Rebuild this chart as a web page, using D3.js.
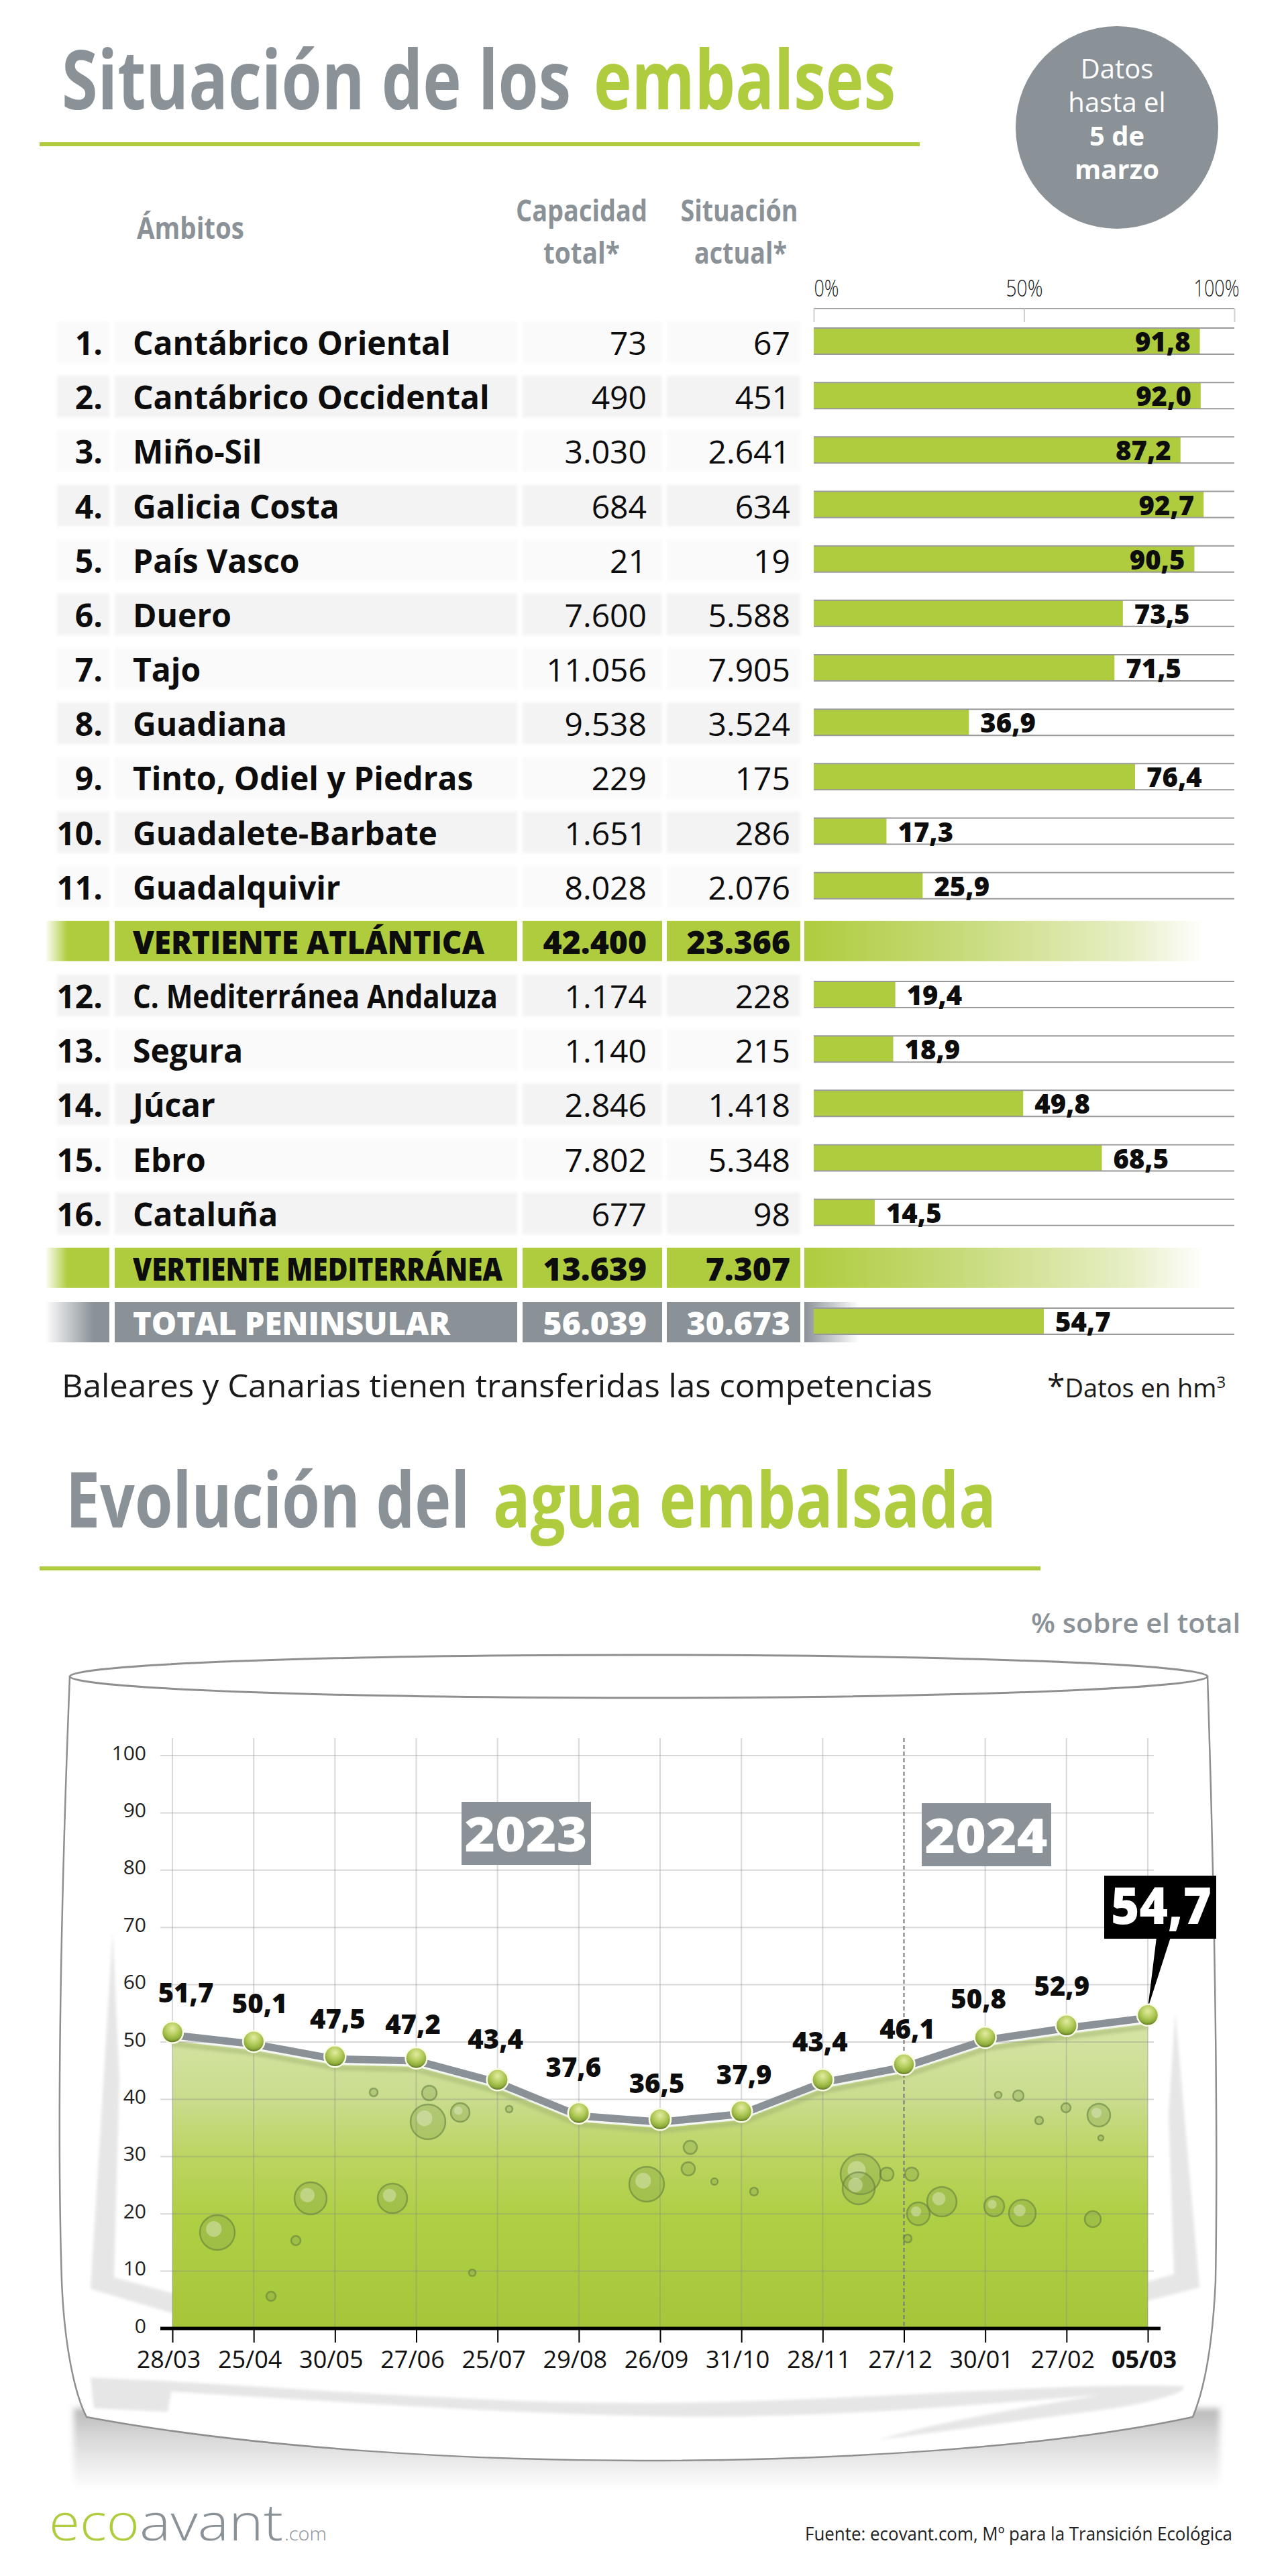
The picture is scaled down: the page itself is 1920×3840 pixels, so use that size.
<!DOCTYPE html>
<html>
<head>
<meta charset="utf-8">
<script src="https://cdn.jsdelivr.net/npm/d3@7"></script>
<style>
  html, body { margin: 0; padding: 0; background: #fff; }
  svg { display: block; }
  text { font-family: "Open Sans", sans-serif; }
</style>
</head>
<body>
<div id="chart"></div>
<script>
// table data
const numeros = ['1.','2.','3.','4.','5.','6.','7.','8.','9.','10.','11.','','12.','13.','14.','15.','16.','',''];
const ambitos = ['Cantábrico Oriental','Cantábrico Occidental','Miño-Sil','Galicia Costa','País Vasco','Duero','Tajo','Guadiana','Tinto, Odiel y Piedras','Guadalete-Barbate','Guadalquivir','VERTIENTE ATLÁNTICA','C. Mediterránea Andaluza','Segura','Júcar','Ebro','Cataluña','VERTIENTE MEDITERRÁNEA','TOTAL PENINSULAR'];
const capacidad = [73,490,3030,684,21,7600,11056,9538,229,1651,8028,42400,1174,1140,2846,7802,677,13639,56039];
const actual = [67,451,2641,634,19,5588,7905,3524,175,286,2076,23366,228,215,1418,5348,98,7307,30673];
const porcentaje = [91.8,92.0,87.2,92.7,90.5,73.5,71.5,36.9,76.4,17.3,25.9,null,19.4,18.9,49.8,68.5,14.5,null,54.7];
const tipoFila = ['r','r','r','r','r','r','r','r','r','r','r','v','r','r','r','r','r','v','t'];

// line chart data
const fechas = ['28/03','25/04','30/05','27/06','25/07','29/08','26/09','31/10','28/11','27/12','30/01','27/02','05/03'];
const agua = [51.7,50.1,47.5,47.2,43.4,37.6,36.5,37.9,43.4,46.1,50.8,52.9,54.7];

// hand placement of the value labels around each point
const labelDx = [20,9,4,-5,-3,-8,-5,4,-4,5,-10,-7];
const labelDy = [-44,-42,-41,-36,-46,-54,-39,-40,-42,-38,-43,-44];

// water bubbles, only decoration: x, y, r
const burbujas = [[324,3328,26],[463,3277,24],[585,3277,22],[638,3163,26],[686,3149,14],[640,3120,11],[557,3119,6],[441,3340,7],[964,3256,26],[1026,3233,10],[1029,3201,10],[1065,3252,5],[1124,3267,6],[1283,3241,30],[1280,3262,24],[1322,3241,10],[1359,3241,10],[1404,3282,22],[1369,3300,17],[1353,3337,6],[1482,3289,15],[1524,3299,20],[1629,3308,12],[1638,3153,17],[1589,3142,7],[1518,3124,8],[1488,3123,5],[1549,3161,6],[759,3144,5],[1641,3187,4],[704,3388,5],[404,3423,7]];

const green = '#afcc3e';
const gray = '#8a9298';
const ink = '#0d0d0d';

const es = d3.formatLocale({ decimal: ',', thousands: '.', grouping: [3], currency: ['', '€'] });
const fmtInt = es.format(',d');
const fmtPct = es.format('.1f');

const svg = d3.select('#chart').append('svg')
    .attr('width', 1920)
    .attr('height', 3840)
    .attr('viewBox', [0, 0, 1920, 3840]);

const defs = svg.append('defs');

const linear = (id, stops, attrs) => {
    const g = defs.append('linearGradient').attr('id', id);
    Object.entries(attrs || {}).forEach(([k, v]) => g.attr(k, v));
    stops.forEach(([o, c]) => g.append('stop').attr('offset', o).attr('stop-color', c));
};
linear('fadeRight', [[0, green], [0.35, '#c6da78'], [0.75, '#e6eec4'], [0.93, '#ffffff']]);
linear('fadeLeftGreen', [[0, '#ffffff'], [0.35, green], [1, green]]);
linear('fadeLeftGray', [[0, '#ffffff'], [0.75, gray], [1, gray]]);
linear('fadeRightGray', [[0, gray], [1, '#ffffff']]);
linear('fadeLeftRow', [[0, '#ffffff'], [0.45, '#f4f4f5'], [1, '#f4f4f5']]);

const blur = (id, s) => defs.append('filter').attr('id', id)
    .attr('x', '-10%').attr('y', '-30%').attr('width', '120%').attr('height', '160%')
    .append('feGaussianBlur').attr('stdDeviation', s);
blur('soft2', 2);
blur('soft5', 5);

// text helper, width squeezes the glyphs since there is no condensed font
function put(parent, str, x, y, o = {}) {
    const t = parent.append('text')
        .attr('x', x)
        .attr('y', y)
        .attr('font-size', o.size || 48)
        .attr('font-weight', o.weight || 400)
        .attr('fill', o.fill || ink)
        .attr('text-anchor', o.anchor || 'start')
        .text(str);
    if (o.width) t.attr('textLength', o.width).attr('lengthAdjust', 'spacingAndGlyphs');
    return t;
}

/* ---------- first title ---------- */
const head = svg.append('g');
put(head, 'Situación de los', 92, 163, { size: 122, weight: 700, fill: gray, width: 759 });
put(head, 'embalses', 885, 163, { size: 122, weight: 700, fill: green, width: 450 });
head.append('rect').attr('x', 59).attr('y', 212).attr('width', 1312).attr('height', 6).attr('fill', green);

head.append('circle').attr('cx', 1665).attr('cy', 190).attr('r', 151).attr('fill', gray);
put(head, 'Datos', 1665, 117, { size: 40, fill: '#fff', anchor: 'middle' });
put(head, 'hasta el', 1665, 167, { size: 40, fill: '#fff', anchor: 'middle' });
put(head, '5 de', 1665, 217, { size: 40, weight: 700, fill: '#fff', anchor: 'middle' });
put(head, 'marzo', 1665, 267, { size: 40, weight: 700, fill: '#fff', anchor: 'middle' });

put(head, 'Ámbitos', 204, 356, { size: 45, weight: 700, fill: gray, width: 160 });
put(head, 'Capacidad', 867, 330, { size: 45, weight: 700, fill: gray, anchor: 'middle', width: 196 });
put(head, 'total*', 867, 393, { size: 45, weight: 700, fill: gray, anchor: 'middle', width: 114 });
put(head, 'Situación', 1102, 330, { size: 45, weight: 700, fill: gray, anchor: 'middle', width: 175 });
put(head, 'actual*', 1104, 393, { size: 45, weight: 700, fill: gray, anchor: 'middle', width: 138 });

/* ---------- table with bars ---------- */
const filas = ambitos.map((a, i) => ({
    num: numeros[i], name: a, cap: capacidad[i], act: actual[i], pct: porcentaje[i], tipo: tipoFila[i], i
}));

const yRow = d3.scalePoint().domain(ambitos).range([510, 1971]);
const xBar = d3.scaleLinear().domain([0, 100]).range([1213, 1840]);

// bar axis on top of the rows
const barAxis = svg.append('g')
    .attr('transform', 'translate(0,460)')
    .call(d3.axisTop(xBar).tickValues([0, 50, 100]).tickSize(-20).tickPadding(18).tickFormat(d => d + '%'));
barAxis.select('.domain').attr('stroke', '#a5a5a5').attr('stroke-width', 2).attr('d', `M${xBar(0)},0H${xBar(100)}`);
barAxis.selectAll('.tick line').attr('stroke', '#d0d0d0').attr('stroke-width', 2);
const tickWidths = { 0: 37, 50: 55, 100: 68 };
barAxis.selectAll('.tick text')
    .attr('font-size', 34)
    .attr('font-weight', 300)
    .attr('font-family', '"Open Sans", sans-serif')
    .attr('fill', '#222')
    .attr('text-anchor', d => d === 0 ? 'start' : d === 100 ? 'end' : 'middle')
    .attr('x', d => d === 100 ? 7 : 0)
    .attr('textLength', d => tickWidths[d])
    .attr('lengthAdjust', 'spacingAndGlyphs');

const rows = svg.append('g').selectAll('g')
    .data(filas)
    .join('g')
    .attr('transform', d => `translate(0,${yRow(d.name)})`);

const cells = [[171, 600], [779, 208], [994, 199]];

// plain rows, soft grey strips
rows.filter(d => d.tipo === 'r').each(function(d) {
    const g = d3.select(this);
    const shade = d.i < 11 ? (d.i % 2 ? '#f3f3f4' : '#fafafa') : ((d.i - 1) % 2 ? '#f3f3f4' : '#fafafa');
    g.append('rect').attr('x', 85).attr('y', -31).attr('width', 78).attr('height', 62)
        .attr('fill', shade).attr('filter', 'url(#soft2)');
    cells.forEach(c => g.append('rect').attr('x', c[0]).attr('y', -31).attr('width', c[1]).attr('height', 62)
        .attr('fill', shade).attr('filter', 'url(#soft2)'));
});

// summary rows, solid strips
rows.filter(d => d.tipo !== 'r').each(function(d) {
    const g = d3.select(this);
    const solid = d.tipo === 'v' ? green : gray;
    g.append('rect').attr('x', 67).attr('y', -30).attr('width', 96).attr('height', 60)
        .attr('fill', d.tipo === 'v' ? 'url(#fadeLeftGreen)' : 'url(#fadeLeftGray)');
    cells.forEach(c => g.append('rect').attr('x', c[0]).attr('y', -30).attr('width', c[1]).attr('height', 60).attr('fill', solid));
    if (d.tipo === 'v') {
        g.append('rect').attr('x', 1199).attr('y', -30).attr('width', 641).attr('height', 60).attr('fill', 'url(#fadeRight)');
    } else {
        g.append('rect').attr('x', 1199).attr('y', -30).attr('width', 82).attr('height', 60).attr('fill', 'url(#fadeRightGray)');
    }
});

// bars and the two rails of each bar
const conBarra = rows.filter(d => d.pct !== null);
conBarra.append('rect')
    .attr('x', xBar(0))
    .attr('y', -21)
    .attr('width', d => xBar(d.pct) - xBar(0))
    .attr('height', 39)
    .attr('fill', green);
[-21, 18].forEach(yy => conBarra.append('line')
    .attr('x1', xBar(0)).attr('x2', xBar(100))
    .attr('y1', yy).attr('y2', yy)
    .attr('stroke', '#9a9a9a').attr('stroke-width', 2));

conBarra.append('text')
    .attr('x', d => d.pct >= 80 ? xBar(d.pct) - 14 : xBar(d.pct) + 17)
    .attr('y', 14)
    .attr('text-anchor', d => d.pct >= 80 ? 'end' : 'start')
    .attr('font-size', 40)
    .attr('font-weight', 800)
    .attr('fill', ink)
    .text(d => fmtPct(d.pct));

rows.append('text')
    .attr('x', 153).attr('y', 19)
    .attr('text-anchor', 'end')
    .attr('font-size', 48).attr('font-weight', 700).attr('fill', ink)
    .text(d => d.num);

const summaryWidths = { 'VERTIENTE ATLÁNTICA': 524, 'VERTIENTE MEDITERRÁNEA': 551, 'TOTAL PENINSULAR': 473 };
const nameWidths = { 'C. Mediterránea Andaluza': 544 };
rows.append('text')
    .attr('x', 198).attr('y', 19)
    .attr('font-size', d => d.tipo === 'r' ? 48 : 47)
    .attr('font-weight', d => d.tipo === 'r' ? 700 : 800)
    .attr('fill', d => d.tipo === 't' ? '#fff' : ink)
    .attr('textLength', d => summaryWidths[d.name] || nameWidths[d.name] || null)
    .attr('lengthAdjust', 'spacingAndGlyphs')
    .text(d => d.name);

[['cap', 964], ['act', 1178]].forEach(([key, right]) => rows.append('text')
    .attr('x', right).attr('y', 19)
    .attr('text-anchor', 'end')
    .attr('font-size', 48)
    .attr('font-weight', d => d.tipo === 'r' ? 400 : 800)
    .attr('fill', d => d.tipo === 't' ? '#fff' : ink)
    .text(d => fmtInt(d[key])));

put(svg, 'Baleares y Canarias tienen transferidas las competencias', 92, 2083, { size: 48, fill: '#1a1a1a', width: 1298 });
const datos = put(svg, '*', 1561, 2083, { size: 48, fill: '#1a1a1a' });
datos.append('tspan').attr('font-size', 38).text('Datos en hm');
datos.append('tspan').attr('font-size', 24).attr('dy', -14).text('3');

/* ---------- second title ---------- */
put(svg, 'Evolución del', 98, 2277, { size: 114, weight: 700, fill: gray, width: 602 });
put(svg, 'agua embalsada', 735, 2277, { size: 114, weight: 700, fill: green, width: 750 });
svg.append('rect').attr('x', 59).attr('y', 2335).attr('width', 1492).attr('height', 6).attr('fill', green);
put(svg, '% sobre el total', 1849, 2434, { size: 40, weight: 600, fill: gray, anchor: 'end', width: 312 });

/* ---------- glass ---------- */
const x = d3.scalePoint().domain(fechas).range([257, 1711]);
const y = d3.scaleLinear().domain([0, 100]).range([3471, 2617]);

linear('floor', [[0, '#b8b8b8'], [0.35, '#d8d8d8'], [1, '#ffffff']], { x1: 0, y1: 0, x2: 0, y2: 1 });
svg.append('rect').attr('x', 110).attr('y', 3590).attr('width', 1708).attr('height', 122)
    .attr('fill', 'url(#floor)').attr('filter', 'url(#soft5)');

const glassBody = 'M104,2499 C92,2800 84,3150 92,3400 C96,3500 112,3570 129,3603 C380,3650 700,3668 955,3668 C1240,3668 1560,3650 1778,3603 C1796,3560 1808,3490 1812,3400 C1816,3150 1810,2800 1800,2499';
svg.append('path').attr('d', glassBody).attr('fill', '#fff').attr('stroke', '#8f8f8f').attr('stroke-width', 2.5);

// reflections inside the glass
const glare = svg.append('g').attr('fill', '#e6e6e6').attr('filter', 'url(#soft2)');
glare.append('path').attr('d', 'M168,2880 L135,3412 L280,3455 L300,3430 L170,3395 L178,3100 Z');
glare.append('path').attr('d', 'M1752,3000 L1788,3410 L1630,3450 L1610,3430 L1750,3390 L1742,3150 Z');
glare.append('path').attr('d', 'M135,3544 C400,3555 700,3585 1000,3582 C1300,3578 1600,3550 1763,3557 C1775,3565 1720,3580 1660,3590 L1310,3637 C1400,3610 1520,3590 1640,3570 C1400,3590 1200,3605 1000,3602 C800,3600 500,3580 255,3565 L250,3595 L140,3590 Z');

svg.append('ellipse').attr('cx', 952).attr('cy', 2499).attr('rx', 848).attr('ry', 32)
    .attr('fill', '#fff').attr('stroke', '#8f8f8f').attr('stroke-width', 3);

/* ---------- line chart ---------- */
const serie = fechas.map((f, i) => ({ f, v: agua[i], i }));
const chart = svg.append('g');

linear('water', [[0, '#d8e6a8'], [0.27, '#c9dc8e'], [0.45, '#bcd562'], [0.64, '#afcf45'], [1, '#a6c63a']],
    { gradientUnits: 'userSpaceOnUse', x1: 0, y1: y(55), x2: 0, y2: y(0) });

const area = d3.area()
    .x(d => x(d.f))
    .y0(y(0))
    .y1(d => y(d.v) + 13);
const line = d3.line().x(d => x(d.f)).y(d => y(d.v));

chart.append('path').datum(serie).attr('d', area).attr('fill', 'url(#water)');

// olive shadow under the line
chart.append('path').datum(serie)
    .attr('d', d3.line().x(d => x(d.f)).y(d => y(d.v) + 17))
    .attr('fill', 'none').attr('stroke', '#9aad6a').attr('stroke-width', 8)
    .attr('opacity', 0.45).attr('filter', 'url(#soft2)');

// grid, over the water so it shows through
const grid = chart.append('g').attr('stroke', '#888').attr('stroke-opacity', 0.33).attr('stroke-width', 2);
grid.selectAll('.h').data(y.ticks(10).filter(d => d > 0)).join('line')
    .attr('class', 'h')
    .attr('x1', 239).attr('x2', 1720)
    .attr('y1', d => y(d)).attr('y2', d => y(d));
grid.selectAll('.v').data(fechas.filter(f => f !== '27/12')).join('line')
    .attr('class', 'v')
    .attr('x1', d => x(d)).attr('x2', d => x(d))
    .attr('y1', 2591).attr('y2', y(0));
chart.append('line')
    .attr('x1', x('27/12')).attr('x2', x('27/12'))
    .attr('y1', 2591).attr('y2', y(0))
    .attr('stroke', '#777').attr('stroke-width', 2).attr('stroke-dasharray', '6,4');

// bubbles
const bubble = chart.append('g').selectAll('g').data(burbujas).join('g');
bubble.append('circle')
    .attr('cx', d => d[0]).attr('cy', d => d[1]).attr('r', d => d[2])
    .attr('fill', '#7d9a4c').attr('fill-opacity', 0.3)
    .attr('stroke', '#5f7a3c').attr('stroke-opacity', 0.55).attr('stroke-width', 2.5);
bubble.filter(d => d[2] > 12).append('circle')
    .attr('cx', d => d[0] - d[2] * 0.2).attr('cy', d => d[1] - d[2] * 0.2).attr('r', d => d[2] * 0.45)
    .attr('fill', '#e4edc8').attr('fill-opacity', 0.45);

// gray line, sits a little under the marker centres
chart.append('path').datum(serie)
    .attr('d', d3.line().x(d => x(d.f)).y(d => y(d.v) + 4))
    .attr('fill', 'none').attr('stroke', gray).attr('stroke-width', 11).attr('stroke-linejoin', 'round');

// axes
const yAxis = chart.append('g')
    .attr('transform', `translate(${x(fechas[0])},0)`)
    .call(d3.axisLeft(y).ticks(10).tickSize(0).tickPadding(39));
yAxis.select('.domain').remove();
yAxis.selectAll('text')
    .attr('font-size', 30)
    .attr('font-weight', 400)
    .attr('font-family', '"Open Sans", sans-serif')
    .attr('fill', '#222')
    .attr('dy', '0.2em');

const xAxis = chart.append('g')
    .attr('transform', `translate(0,${y(0)})`)
    .call(d3.axisBottom(x).tickSize(21).tickPadding(12));
xAxis.select('.domain').attr('stroke', '#000').attr('stroke-width', 5).attr('d', 'M239,0H1730');
xAxis.selectAll('.tick line').attr('stroke', '#000').attr('stroke-width', 2);
xAxis.selectAll('.tick text')
    .attr('x', -6)
    .attr('font-size', 36)
    .attr('font-family', '"Open Sans", sans-serif')
    .attr('font-weight', d => d === '05/03' ? 700 : 400)
    .attr('fill', '#111');

// year tags
const years = [['2023', 688, 2686], ['2024', 1374, 2688]];
const tag = chart.append('g').selectAll('g').data(years).join('g');
tag.append('rect').attr('x', d => d[1]).attr('y', d => d[2]).attr('width', 193).attr('height', 94).attr('fill', gray);
tag.append('text')
    .attr('x', d => d[1] + 96).attr('y', d => d[2] + 74)
    .attr('text-anchor', 'middle')
    .attr('font-size', 70).attr('font-weight', 800).attr('fill', '#fff')
    .attr('textLength', 183).attr('lengthAdjust', 'spacingAndGlyphs')
    .text(d => d[0]);

// callout of the last point
const ultimo = serie[serie.length - 1];
chart.append('path')
    .attr('d', `M1724,2888 L1745,2888 L${x(ultimo.f)},${y(ultimo.v) - 10} Z`)
    .attr('fill', '#000');
chart.append('rect').attr('x', 1646).attr('y', 2796).attr('width', 167).attr('height', 94).attr('fill', '#000');
put(chart, fmtPct(ultimo.v), 1731, 2868, { size: 76, weight: 800, fill: '#fff', anchor: 'middle', width: 150 });

// markers
const ball = defs.append('radialGradient').attr('id', 'ball')
    .attr('cx', 0.5).attr('cy', 0.32).attr('r', 0.72);
[[0, '#e2eca0'], [0.45, '#b2cb5a'], [0.72, '#8fae3c'], [0.9, '#5d7326'], [1, '#3f4f1c']]
    .forEach(([o, c]) => ball.append('stop').attr('offset', o).attr('stop-color', c));
chart.append('g').selectAll('circle').data(serie).join('circle')
    .attr('cx', d => x(d.f))
    .attr('cy', d => y(d.v))
    .attr('r', 16)
    .attr('fill', 'url(#ball)')
    .attr('stroke', '#fbfce8')
    .attr('stroke-width', 2.5);

// value labels
chart.append('g').selectAll('text').data(serie.slice(0, -1)).join('text')
    .attr('x', d => x(d.f) + labelDx[d.i])
    .attr('y', d => y(d.v) + labelDy[d.i])
    .attr('text-anchor', 'middle')
    .attr('font-size', 40)
    .attr('font-weight', 800)
    .attr('fill', ink)
    .text(d => fmtPct(d.v));

/* ---------- footer ---------- */
put(svg, 'eco', 73, 3787, { size: 76, weight: 300, fill: green, width: 135 });
put(svg, 'avant', 208, 3787, { size: 76, weight: 300, fill: gray, width: 214 });
put(svg, '.com', 424, 3787, { size: 28, weight: 300, fill: gray, width: 63 });
put(svg, 'Fuente: ecovant.com, Mº para la Transición Ecológica', 1200, 3787, { size: 28, fill: '#222', width: 637 });
</script>
</body>
</html>
